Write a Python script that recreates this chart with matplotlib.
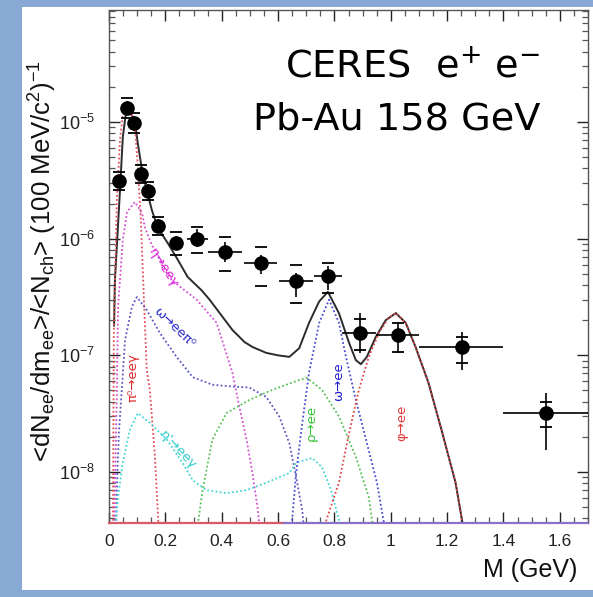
import matplotlib
matplotlib.use("Agg")
import matplotlib.pyplot as plt
from matplotlib.patches import Rectangle
from matplotlib.ticker import MultipleLocator, LogLocator, NullFormatter

plt.rcParams["mathtext.default"] = "regular"
plt.rcParams["mathtext.fontset"] = "custom"
plt.rcParams["mathtext.rm"] = "Liberation Sans"
plt.rcParams["mathtext.it"] = "Liberation Sans:italic"

# ---------------- data ----------------
# measured points
m_pts = [0.037, 0.0625, 0.088, 0.113, 0.139, 0.174, 0.237, 0.313, 0.413, 0.539, 0.663, 0.777, 0.890, 1.026, 1.252, 1.552]
y_pts = [3.1e-6, 1.31e-5, 9.7e-6, 3.58e-6, 2.56e-6, 1.29e-6, 9.1e-7, 1.0e-6, 7.75e-7, 6.2e-7, 4.3e-7, 4.8e-7, 1.55e-7, 1.5e-7, 1.19e-7, 3.2e-8]
bin_lo = [0.037, 0.0625, 0.088, 0.113, 0.139, 0.174, 0.216, 0.276, 0.350, 0.480, 0.604, 0.728, 0.827, 0.947, 1.10, 1.40]
bin_hi = [0.037, 0.0625, 0.088, 0.113, 0.139, 0.174, 0.258, 0.350, 0.473, 0.597, 0.724, 0.827, 0.947, 1.10, 1.40, 1.70]
stat_lo = [2.75e-6, 1.14e-5, 8.4e-6, 3.1e-6, 2.22e-6, 1.12e-6, 8.0e-7, 8.5e-7, 6.35e-7, 4.99e-7, 3.16e-7, 3.63e-7, 1.05e-7, 1.05e-7, 7.5e-8, 1.55e-8]
stat_hi = [3.5e-6, 1.5e-5, 1.12e-5, 4.1e-6, 2.95e-6, 1.48e-6, 1.05e-6, 1.21e-6, 9.4e-7, 7.25e-7, 5.08e-7, 5.83e-7, 2.31e-7, 1.93e-7, 1.58e-7, 4.76e-8]
sys_lo = [2.61e-6, 1.08e-5, 8.05e-6, 3.0e-6, 2.15e-6, 1.08e-6, 7.3e-7, 7.5e-7, 5.3e-7, 3.94e-7, 2.81e-7, 3.4e-7, 1.11e-7, 1.07e-7, 8.6e-8, 2.43e-8]
sys_hi = [3.73e-6, 1.61e-5, 1.19e-5, 4.28e-6, 3.06e-6, 1.53e-6, 1.14e-6, 1.27e-6, 1.04e-6, 8.5e-7, 5.96e-7, 6.19e-7, 2.05e-7, 1.9e-7, 1.44e-7, 3.99e-8]

# cocktail: total
total_m = [0.018, 0.021, 0.039, 0.049, 0.060, 0.066, 0.092, 0.102, 0.117, 0.134, 0.152, 0.173, 0.208, 0.244, 0.279,
           0.329, 0.357, 0.399, 0.438, 0.481, 0.509, 0.558, 0.600, 0.640, 0.675, 0.710, 0.746, 0.777, 0.816, 0.852,
           0.876, 0.894, 0.915, 0.947, 0.982, 1.018, 1.053, 1.088, 1.134, 1.180, 1.230, 1.256]
total_y = [1.8e-7, 4.4e-7, 2.6e-6, 7.4e-6, 1.19e-5, 1.34e-5, 1.0e-5, 6.6e-6, 3.9e-6, 2.6e-6, 1.76e-6, 1.24e-6, 9.2e-7, 6.6e-7, 4.7e-7,
           3.6e-7, 3.0e-7, 2.2e-7, 1.65e-7, 1.3e-7, 1.18e-7, 1.05e-7, 1.0e-7, 9.7e-8, 1.15e-7, 1.9e-7, 2.9e-7, 3.5e-7, 2.3e-7, 1.28e-7,
           9.1e-8, 8.4e-8, 9.7e-8, 1.44e-7, 2.0e-7, 2.3e-7, 1.9e-7, 1.18e-7, 5.8e-8, 2.3e-8, 8.1e-9, 3.5e-9]

# pi0 Dalitz
pi0_m = [0.014, 0.017, 0.021, 0.028, 0.039, 0.049, 0.064, 0.078, 0.092, 0.102, 0.113, 0.124, 0.134, 0.145, 0.163, 0.177]
pi0_y = [3.0e-9, 1.5e-7, 4.0e-7, 2.15e-6, 7.0e-6, 1.15e-5, 1.34e-5, 1.22e-5, 9.06e-6, 4.28e-6, 1.45e-6, 3.0e-7, 7.5e-8, 5.06e-8, 1.35e-8, 3.0e-9]

# eta Dalitz
eta_m = [0.018, 0.021, 0.028, 0.032, 0.039, 0.049, 0.064, 0.092, 0.117, 0.127, 0.152, 0.163, 0.191, 0.223, 0.311, 0.382, 0.438, 0.463, 0.488, 0.509, 0.527, 0.537]
eta_y = [3.0e-9, 7.0e-9, 5.1e-8, 2.6e-7, 4.4e-7, 9.7e-7, 1.69e-6, 2.06e-6, 1.66e-6, 1.26e-6, 8.8e-7, 8.0e-7, 5.7e-7, 4.4e-7, 3.0e-7, 1.9e-7, 7.1e-8, 3.6e-8, 1.9e-8, 9.8e-9, 5.0e-9, 3.0e-9]

# omega Dalitz
omd_m = [0.025, 0.028, 0.035, 0.046, 0.057, 0.081, 0.099, 0.134, 0.180, 0.240, 0.297, 0.367, 0.438, 0.498, 0.558, 0.604, 0.640, 0.664, 0.686, 0.693]
omd_y = [3.0e-9, 7.4e-9, 2.16e-8, 5.36e-8, 1.35e-7, 2.6e-7, 3.16e-7, 2.45e-7, 1.56e-7, 9.7e-8, 6.5e-8, 5.6e-8, 5.4e-8, 5.3e-8, 4.4e-8, 3.0e-8, 1.77e-8, 9.1e-9, 4.7e-9, 3.0e-9]

# eta' Dalitz
etp_m = [0.021, 0.032, 0.049, 0.074, 0.102, 0.145, 0.205, 0.261, 0.297, 0.346, 0.417, 0.488, 0.558, 0.640, 0.664, 0.721, 0.756, 0.788, 0.816, 0.825]
etp_y = [3.0e-9, 6.1e-9, 1.2e-8, 2.3e-8, 3.2e-8, 2.64e-8, 1.9e-8, 1.2e-8, 8.5e-9, 7.0e-9, 6.6e-9, 7.0e-9, 8.1e-9, 9.8e-9, 1.2e-8, 1.32e-8, 1.1e-8, 7.0e-9, 3.9e-9, 3.0e-9]

# rho -> ee
rho_m = [0.311, 0.332, 0.367, 0.417, 0.498, 0.580, 0.675, 0.703, 0.756, 0.816, 0.876, 0.922, 0.940]
rho_y = [3.0e-9, 7.0e-9, 1.9e-8, 3.2e-8, 4.15e-8, 5.06e-8, 6.15e-8, 6.4e-8, 5.06e-8, 3.0e-8, 1.35e-8, 6.1e-9, 3.0e-9]

# omega -> ee
ome_m = [0.646, 0.664, 0.686, 0.710, 0.746, 0.781, 0.816, 0.841, 0.876, 0.912, 0.951, 0.982]
ome_y = [3.0e-9, 9.8e-9, 2.64e-8, 7.1e-8, 1.9e-7, 3.0e-7, 1.9e-7, 9.7e-8, 4.15e-8, 1.9e-8, 8.1e-9, 3.0e-9]

# phi -> ee
phi_m = [0.756, 0.816, 0.852, 0.887, 0.922, 0.958, 0.993, 1.018, 1.053, 1.088, 1.134, 1.180, 1.230, 1.256]
phi_y = [3.0e-9, 8.1e-9, 2.16e-8, 5.06e-8, 9.7e-8, 1.56e-7, 2.1e-7, 2.31e-7, 1.9e-7, 1.18e-7, 5.8e-8, 2.3e-8, 8.1e-9, 3.5e-9]

# curve labels
lab_text = ["π⁰→eeγ", "η→eeγ", "ω→eeπ⁰", "η'→eeγ", "ρ→ee", "ω→ee", "φ→ee"]
lab_m = [0.085, 0.191, 0.230, 0.244, 0.717, 0.816, 1.039]
lab_y = [6.4e-8, 5.6e-7, 1.72e-7, 1.55e-8, 2.64e-8, 5.9e-8, 2.64e-8]
lab_rot = [90, -57, -44, -47, 90, 90, 90]

x_ticks = [0, 0.2, 0.4, 0.6, 0.8, 1.0, 1.2, 1.4, 1.6]
x_ticklabels = ["0", "0.2", "0.4", "0.6", "0.8", "1", "1.2", "1.4", "1.6"]

# ---------------- figure ----------------
W, H = 593, 597
fig = plt.figure(figsize=(W / 100, H / 100), dpi=100, facecolor="#87a9d3")
fig.patches.append(Rectangle((22 / W, 7 / H), (W - 22) / W, (590 - 7) / H,
                             transform=fig.transFigure, facecolor="white", edgecolor="none", zorder=-10))

ax = fig.add_axes([109 / W, (H - 523) / H, (588 - 109) / W, (523 - 10) / H])
ax.patch.set_visible(False)
ax.set_yscale("log")
ax.set_xlim(0, 1.7)
ax.set_ylim(3.66e-9, 9.1e-5)

dot = (0, (1.0, 1.3))
ax.plot(total_m, total_y, color="#2b2b2b", lw=1.4, zorder=3)
curves = [
    (pi0_m, pi0_y, "#e0505a"),
    (eta_m, eta_y, "#d24fd2"),
    (omd_m, omd_y, "#5a58c0"),
    (etp_m, etp_y, "#45d5d5"),
    (rho_m, rho_y, "#55c255"),
    (ome_m, ome_y, "#4a4ad2"),
    (phi_m, phi_y, "#e04848"),
]
for xs, ys, c in curves:
    ax.plot(xs, ys, color=c, lw=1.3, ls=dot, zorder=4)

lab_col = ["#e02828", "#e020e0", "#2a2ac8", "#30cccc", "#30c030", "#2020d0", "#e03838"]
for t, xm, ym, r, c in zip(lab_text, lab_m, lab_y, lab_rot, lab_col):
    ax.text(xm, ym, t, color=c, rotation=r, rotation_mode="anchor", ha="center", va="center",
            fontsize=9.5, family=["DejaVu Sans"], zorder=5)

# data points
xerr = [[m - lo for m, lo in zip(m_pts, bin_lo)], [hi - m for m, hi in zip(m_pts, bin_hi)]]
yerr = [[y - lo for y, lo in zip(y_pts, stat_lo)], [hi - y for y, hi in zip(y_pts, stat_hi)]]
ax.errorbar(m_pts, y_pts, xerr=xerr, yerr=yerr, fmt="o", color="black", ms=9.5, elinewidth=1.2,
            capsize=0, zorder=6)
ax.plot(m_pts, sys_lo, ls="none", marker="_", ms=8, mew=1.3, color="black", zorder=6)
ax.plot(m_pts, sys_hi, ls="none", marker="_", ms=8, mew=1.3, color="black", zorder=6)

# bottom spine tinted by the curves lying on the floor
ax.spines["bottom"].set_visible(False)
ax.plot([0, 0.62], [0, 0], transform=ax.get_xaxis_transform(), color="#d85a6a", lw=1.6, clip_on=False, zorder=7)
ax.plot([0.62, 1.7], [0, 0], transform=ax.get_xaxis_transform(), color="#8a70c8", lw=1.6, clip_on=False, zorder=7)
for s in ["left", "right", "top"]:
    ax.spines[s].set_color("#555555")
    ax.spines[s].set_linewidth(1.0)

# ticks
ax.set_xticks(x_ticks)
ax.set_xticklabels(x_ticklabels)
ax.xaxis.set_minor_locator(MultipleLocator(0.05))
ax.yaxis.set_major_locator(LogLocator(base=10, numticks=20))
ax.yaxis.set_minor_locator(LogLocator(base=10, subs=range(2, 10), numticks=20))
ax.yaxis.set_minor_formatter(NullFormatter())
ax.tick_params(which="both", direction="in", top=True, right=True, color="#555555")
ax.tick_params(which="major", length=8, width=1.0, labelsize=12.5, colors="#222222", pad=8)
ax.tick_params(which="minor", length=4, width=0.9, color="#555555")
ax.tick_params(axis="y", which="major", labelsize=13, pad=10)
for lab in ax.get_xticklabels() + ax.get_yticklabels():
    lab.set_family(["Liberation Sans", "DejaVu Sans"])

# axis titles
fig.text(43 / W, (H - 261) / H,
         r"<dN$_{ee}$/dm$_{ee}$>/<N$_{ch}$> (100 MeV/c$^{2}$)$^{-1}$",
         rotation=90, ha="center", va="center", fontsize=18.5, family=["Liberation Sans", "DejaVu Sans"], color="#111111")
fig.text(530 / W, (H - 570) / H, "M (GeV)", ha="center", va="center", fontsize=18,
         family=["Liberation Sans", "DejaVu Sans"], color="#111111")

# headline
fig.text(540 / W, (H - 77) / H, r"CERES  e$^{+}$ e$^{-}$", ha="right", va="baseline", fontsize=27.5,
         family=["DejaVu Sans"], color="black", zorder=10)
fig.text(540 / W, (H - 130) / H, "Pb-Au 158 GeV", ha="right", va="baseline", fontsize=27.5,
         family=["DejaVu Sans"], color="black", zorder=10)

fig.savefig("out.png", dpi=100, facecolor=fig.get_facecolor())
